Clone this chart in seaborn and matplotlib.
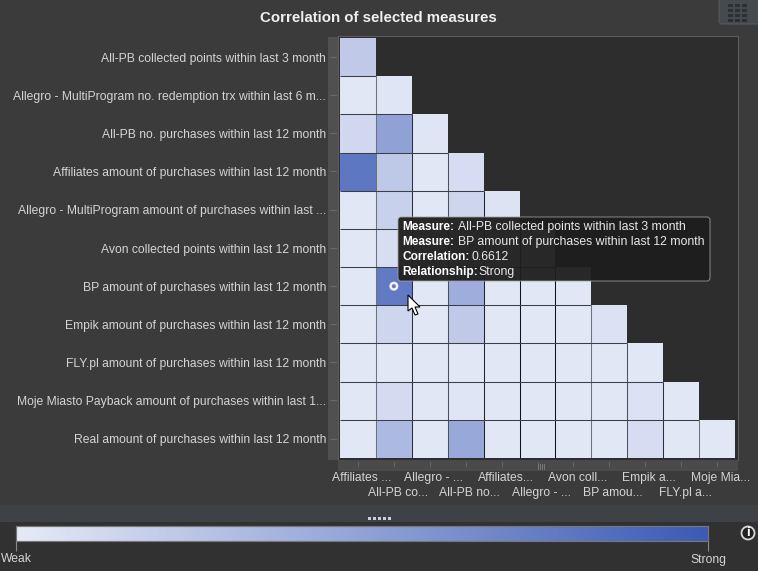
import numpy as np
import pandas as pd
import matplotlib
matplotlib.use('Agg')
import matplotlib.pyplot as plt
import seaborn as sns
from matplotlib.colors import LinearSegmentedColormap
from matplotlib.patches import Rectangle, FancyBboxPatch, Polygon, Circle
from matplotlib.transforms import ScaledTranslation

# row labels, left side
measures = ['All-PB collected points within last 3 month',
            'Allegro - MultiProgram no. redemption trx within last 6 m...',
            'All-PB no. purchases within last 12 month',
            'Affiliates amount of purchases within last 12 month',
            'Allegro - MultiProgram amount of purchases within last ...',
            'Avon collected points within last 12 month',
            'BP amount of purchases within last 12 month',
            'Empik amount of purchases within last 12 month',
            'FLY.pl amount of purchases within last 12 month',
            'Moje Miasto Payback amount of purchases within last 1...',
            'Real amount of purchases within last 12 month']
# column labels, cut off like in the original
columns = ['Affiliates ...', 'All-PB co...', 'Allegro - ...', 'All-PB no...',
           'Affiliates...', 'Allegro - ...', 'Avon coll...', 'BP amou...',
           'Empik a...', 'FLY.pl a...', 'Moje Mia...']

# lower triangle of correlations
row0 = [0.19]
row1 = [0.02, 0.03]
row2 = [0.11, 0.43, 0.03]
row3 = [0.68, 0.20, 0.02, 0.08]
row4 = [0.02, 0.15, 0.02, 0.12, 0.04]
row5 = [0.02, 0.07, 0.02, 0.02, 0.02, 0.02]
row6 = [0.02, 0.6612, 0.02, 0.36, 0.02, 0.02, 0.02]
row7 = [0.02, 0.12, 0.02, 0.19, 0.02, 0.02, 0.02, 0.05]
row8 = [0.02, 0.02, 0.02, 0.02, 0.02, 0.02, 0.02, 0.02, 0.02]
row9 = [0.02, 0.09, 0.02, 0.03, 0.02, 0.02, 0.02, 0.02, 0.05, 0.02]
row10 = [0.02, 0.29, 0.02, 0.39, 0.02, 0.02, 0.02, 0.02, 0.08, 0.02, 0.02]

W, H = 758, 571
BG = '#3b3b3b'
PANEL = '#2d2d2d'
TXT = '#d4d4d4'
# vertical grid lines come out with uneven shades in the original
v_colors = ['#6d727c', '#2a3040', '#4a505c', '#1e2430', '#10141e',
            '#10141e', '#6d727c', '#4a505c', '#2a3040', '#6d727c']

sns.set_theme(style='dark')
plt.rcParams['font.family'] = ['Liberation Sans', 'DejaVu Sans']


# pixel box (top left origin) -> figure fractions
def box(x0, y0, x1, y1):
    return [x0 / W, 1 - y1 / H, (x1 - x0) / W, (y1 - y0) / H]


def fx(x):
    return x / W


def fy(y):
    return 1 - y / H


def add_rect(x0, y0, x1, y1, color, edge='none', lw=0, z=-1):
    b = box(x0, y0, x1, y1)
    fig.add_artist(Rectangle((b[0], b[1]), b[2], b[3], transform=fig.transFigure,
                             facecolor=color, edgecolor=edge, linewidth=lw, zorder=z))


fig = plt.figure(figsize=(W / 100, H / 100), dpi=100, facecolor=BG)

# bottom legend area and splitter
add_rect(0, 505, W, 522, '#3e4145', z=-3)
add_rect(0, 522, W, H, '#313131', z=-3)
# frame of the plot
add_rect(338, 36, 738, 460, PANEL, edge='#5c5c5c', lw=0.8, z=-3)
# scroll strips
add_rect(328, 37, 338, 460, '#505050', z=-3)
add_rect(338, 460, 738, 471, '#4a4a4a', z=-3)

ax = fig.add_axes(box(340, 38, 735, 458))
cax = fig.add_axes(box(16, 526, 708, 541))

corr = pd.DataFrame([row0, row1, row2, row3, row4, row5, row6, row7, row8, row9, row10],
                    index=measures, columns=columns)
cmap = LinearSegmentedColormap.from_list('weak_strong', ['#E6EAF7', '#3B5AB4'])

sns.heatmap(corr, ax=ax, cbar_ax=cax, cmap=cmap, vmin=0, vmax=0.85,
            linewidths=0, square=False, cbar_kws={'orientation': 'horizontal'})
ax.patch.set_alpha(0)
ax.set_xlabel('')
ax.set_ylabel('')

# grid only inside the triangle
n = len(measures)
for k in range(1, n):
    ax.hlines(k, 0, k, color='#3a3f4a', linewidth=0.75, zorder=3)
    ax.vlines(k, k, n, color=v_colors[k - 1], linewidth=0.75, zorder=3)

ax.set_yticklabels(measures, rotation=0, color=TXT, fontsize=8.75)
ax.set_xticklabels(columns, rotation=0, color=TXT, fontsize=8.75)
ax.tick_params(axis='y', length=0, pad=10)
ax.tick_params(axis='x', length=0)
# two staggered rows of x labels, baseline aligned
for i, tick in enumerate(ax.xaxis.get_major_ticks()):
    tick.set_pad(16.5 if i % 2 == 0 else 27.4)
    tick.label1.set_verticalalignment('baseline')
    tick.label1.set_transform(tick.label1.get_transform() + ScaledTranslation(0.04, 0, fig.dpi_scale_trans))
for tick in ax.yaxis.get_major_ticks():
    tick.label1.set_transform(tick.label1.get_transform() + ScaledTranslation(0, -0.015, fig.dpi_scale_trans))

# colour bar with the two end labels
cax.collections[0].set_edgecolor('face')
cax.set_xticks([0, 0.85])
cax.set_xticklabels(['Weak', 'Strong'], color=TXT, fontsize=8.75)
cax.tick_params(axis='x', length=7, width=0.8, color='#8a8a8a', pad=2, bottom=True)
for s in cax.spines.values():
    s.set_visible(True)
    s.set_color('#777777')
    s.set_linewidth(0.8)

fig.text(fx(378), fy(18), 'Correlation of selected measures', ha='center', va='center',
         color='#f0f0f0', fontsize=10.8, fontweight='bold')

# small ticks on the strips
for i in range(n):
    yy = 57 + i * 38.15
    add_rect(330, yy, 337, yy + 1, '#6a6a6a')
    xx = 358 + i * 35.9
    add_rect(xx, 462, xx + 1, 467, '#666666')
for xx in (538, 540, 542, 544):
    add_rect(xx, 464, xx + 1, 470, '#777777')

# hovered cell marker
ax.scatter([1.5], [6.5], s=22, facecolor='none', edgecolor='#f0f0f0', linewidth=1.8, zorder=5)

# tooltip
fig.add_artist(FancyBboxPatch((398, H - 281), 312, 64, boxstyle='round,pad=0,rounding_size=3',
                              transform=None, facecolor='#1e1e1e', edgecolor='#a0a0a0',
                              linewidth=0.6, alpha=0.95, zorder=4))
tip_keys = ['Measure:', 'Measure:', 'Correlation:', 'Relationship:']
tip_vals = ['All-PB collected points within last 3 month',
            'BP amount of purchases within last 12 month', '0.6612', 'Strong']
tip_x = [458, 458, 472, 478]
for i in range(4):
    yy = 230.5 + i * 15
    fig.text(fx(402), fy(yy), tip_keys[i], color='white', fontsize=8.6, fontweight='bold', va='baseline', zorder=5)
    fig.text(fx(tip_x[i]), fy(yy), tip_vals[i], color='#e8e8e8', fontsize=8.8, va='baseline', zorder=5)

# mouse pointer
cursor = [(408, 295), (408, 311), (412, 308), (415, 315), (418, 314), (415, 307), (420, 307)]
fig.add_artist(Polygon([(x, H - y) for x, y in cursor], closed=True, transform=None,
                       facecolor='white', edgecolor='black', linewidth=0.8, zorder=6))

# splitter dots
for xx in (368, 373, 378, 383, 388):
    add_rect(xx, 517, xx + 2.5, 520, '#c8d0dc')

# info icon
fig.add_artist(Circle((748, H - 533), 6.5, transform=None, facecolor='#202020',
                      edgecolor='#d8d8d8', linewidth=1.3, zorder=4))
fig.text(fx(748), fy(533), 'i', color='white', fontsize=9.5, fontweight='bold', ha='center', va='center', zorder=5)

# table icon, top right
fig.add_artist(FancyBboxPatch((719, H - 24), 45, 30, boxstyle='round,pad=0,rounding_size=3',
                              transform=None, facecolor='#454a4f', edgecolor='#55595d', linewidth=0.8, zorder=2))
for r in range(4):
    for c in range(3):
        b = box(728 + c * 7, 4 + r * 5, 733 + c * 7, 7 + r * 5)
        fig.add_artist(Rectangle((b[0], b[1]), b[2], b[3], transform=fig.transFigure,
                                 facecolor='#2c3034', edgecolor='none', zorder=3))

fig.savefig('out.png', dpi=100, facecolor=fig.get_facecolor())
